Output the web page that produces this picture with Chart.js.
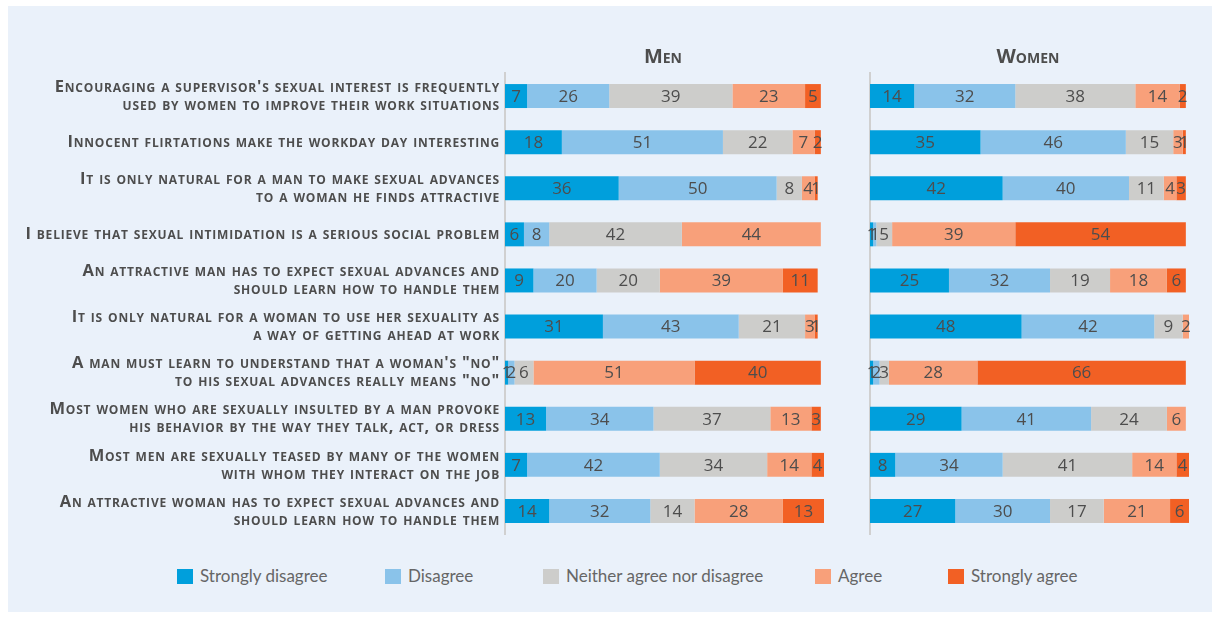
<!DOCTYPE html>
<html>
<head>
<meta charset="utf-8">
<script src="https://cdn.jsdelivr.net/npm/chart.js@4.4.0/dist/chart.umd.min.js"></script>
<style>
  body { margin: 0; background: #fff; width: 1218px; height: 618px; position: relative; overflow: hidden; }
  #panel { position: absolute; left: 8px; top: 6px; width: 1204px; height: 606px; background: #eaf1fa; }
  #menBox { position: absolute; left: 0; top: 0; width: 840px; height: 545px; }
  #womenBox { position: absolute; left: 860px; top: 0; width: 350px; height: 545px; }
  #legend { position: absolute; left: 0; top: 565px; width: 1218px; height: 24px; font-family: Lato, sans-serif; font-size: 17px; color: #666; }
  .item { position: absolute; top: 0; white-space: nowrap; }
  .item span.box { display: inline-block; width: 16px; height: 15px; vertical-align: -2px; margin-right: 7px; }
</style>
</head>
<body>
<div id="panel"></div>
<div id="menBox"><canvas id="menChart"></canvas></div>
<div id="womenBox"><canvas id="womenChart"></canvas></div>
<div id="legend"></div>
<script>
// the statements (y axis)
const statements = [
  ["Encouraging a supervisor's sexual interest is frequently", "used by women to improve their work situations"],
  "Innocent flirtations make the workday day interesting",
  ["It is only natural for a man to make sexual advances", "to a woman he finds attractive"],
  "I believe that sexual intimidation is a serious social problem",
  ["An attractive man has to expect sexual advances and", "should learn how to handle them"],
  ["It is only natural for a woman to use her sexuality as", "a way of getting ahead at work"],
  ['A man must learn to understand that a woman\'s "no"', 'to his sexual advances really means "no"'],
  ["Most women who are sexually insulted by a man provoke", "his behavior by the way they talk, act, or dress"],
  ["Most men are sexually teased by many of the women", "with whom they interact on the job"],
  ["An attractive woman has to expect sexual advances and", "should learn how to handle them"]
];

const answers = ['Strongly disagree', 'Disagree', 'Neither agree nor disagree', 'Agree', 'Strongly agree'];
const answerColors = ['#009fdc', '#8ac3ea', '#cdcdcb', '#f8a07a', '#f26024'];

// percentages per answer, men
const menStronglyDisagree = [7, 18, 36, 6, 9, 31, 1, 13, 7, 14];
const menDisagree = [26, 51, 50, 8, 20, 43, 2, 34, 42, 32];
const menNeither = [39, 22, 8, 42, 20, 21, 6, 37, 34, 14];
const menAgree = [23, 7, 4, 44, 39, 3, 51, 13, 14, 28];
const menStronglyAgree = [5, 2, 1, null, 11, 1, 40, 3, 4, 13];

// percentages per answer, women
const womenStronglyDisagree = [14, 35, 42, 1, 25, 48, 1, 29, 8, 27];
const womenDisagree = [32, 46, 40, 1, 32, 42, 2, 41, 34, 30];
const womenNeither = [38, 15, 11, 5, 19, 9, 3, 24, 41, 17];
const womenAgree = [14, 3, 4, 39, 18, 2, 28, 6, 14, 21];
const womenStronglyAgree = [2, 1, 3, 54, 6, null, 66, null, 4, 6];

const textColor = '#4d4d4d';

// write the value in the middle of each segment
const valueLabels = {
  id: 'valueLabels',
  afterDatasetsDraw(chart) {
    const ctx = chart.ctx;
    ctx.save();
    ctx.font = '17px "Open Sans"';
    ctx.fillStyle = textColor;
    ctx.textAlign = 'center';
    ctx.textBaseline = 'middle';
    chart.data.datasets.forEach((ds, i) => {
      chart.getDatasetMeta(i).data.forEach((bar, j) => {
        const v = ds.data[j];
        if (!v) return;
        const p = bar.getProps(['x', 'y', 'base'], true);
        ctx.fillText(v, (p.x + p.base) / 2, p.y + 1);
      });
    });
    ctx.restore();
  }
};

// small caps title and statements (canvas font shorthand ignores small-caps)
const smallCaps = {
  id: 'smallCaps',
  afterDraw(chart, args, opts) {
    const ctx = chart.ctx;
    const xs = chart.scales.x, ys = chart.scales.y;
    ctx.save();
    ctx.fillStyle = textColor;
    ctx.textBaseline = 'middle';
    ctx.font = 'bold 20px "Open Sans"';
    ctx.fontVariantCaps = 'small-caps';
    ctx.textAlign = 'center';
    ctx.fillText(opts.title, xs.getPixelForValue(50), 57);
    if (opts.labels) {
      ctx.font = 'bold 16.5px "Open Sans"';
      ctx.fontVariantCaps = 'small-caps';
      ctx.letterSpacing = '0.8px';
      ctx.textAlign = 'right';
      const right = chart.chartArea.left - 5;
      statements.forEach((s, i) => {
        const lines = Array.isArray(s) ? s : [s];
        const y0 = ys.getPixelForTick(i) - (lines.length - 1) * 9;
        lines.forEach((line, k) => ctx.fillText(line, right, y0 + k * 18));
      });
    }
    ctx.restore();
  }
};

function makeDatasets(series) {
  return series.map((data, i) => ({
    label: answers[i],
    data: data,
    backgroundColor: answerColors[i],
    borderWidth: 0,
    barPercentage: 0.52,
    categoryPercentage: 1
  }));
}

function makeChart(id, title, series, showLabels, axisWidth, padRight) {
  return new Chart(document.getElementById(id), {
    type: 'bar',
    data: { labels: statements, datasets: makeDatasets(series) },
    options: {
      indexAxis: 'y',
      responsive: true,
      maintainAspectRatio: false,
      animation: false,
      layout: { padding: { top: 73, right: padRight, bottom: 11, left: 0 } },
      plugins: {
        legend: { display: false },
        tooltip: { enabled: false },
        smallCaps: { title: title, labels: showLabels }
      },
      scales: {
        x: { stacked: true, min: 0, max: 101, display: false },
        y: {
          stacked: true,
          grid: { display: false, drawTicks: false },
          border: { display: true, color: '#d0d0d0', width: 2 },
          ticks: { display: false },
          afterFit: (axis) => { axis.width = axisWidth; }
        }
      }
    },
    plugins: [valueLabels, smallCaps]
  });
}

makeChart('menChart', 'Men',
  [menStronglyDisagree, menDisagree, menNeither, menAgree, menStronglyAgree], true, 505, 16);
makeChart('womenChart', 'Women',
  [womenStronglyDisagree, womenDisagree, womenNeither, womenAgree, womenStronglyAgree], false, 10, 21);

// legend under both panels
const legendLeft = [177, 385, 543, 815, 948];
const legend = document.getElementById('legend');
answers.forEach((name, i) => {
  const item = document.createElement('div');
  item.className = 'item';
  item.style.left = legendLeft[i] + 'px';
  item.innerHTML = '<span class="box" style="background:' + answerColors[i] + '"></span>' + name;
  legend.appendChild(item);
});
</script>
</body>
</html>
